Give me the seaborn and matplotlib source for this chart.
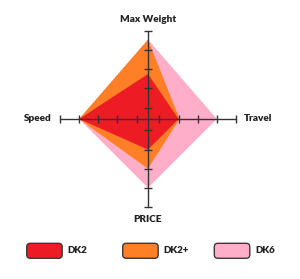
import numpy as np
import matplotlib
matplotlib.use("Agg")
import matplotlib.pyplot as plt
from matplotlib.patches import FancyBboxPatch
import seaborn as sns

categories = ["Max Weight", "Travel", "PRICE", "Speed"]
series = ["DK2", "DK2+", "DK6"]
dk2 = [2.75, 2.0, 2.0, 4.0]
dk2_plus = [4.55, 2.05, 3.0, 4.0]
dk6 = [4.55, 4.0, 4.0, 4.0]
tick_values = [1, 2, 3, 4, 5]
colors = {"DK2": "#ED1C24", "DK2+": "#FF7F27", "DK6": "#FFAEC9"}

sns.set_theme(style="white")
plt.rcParams["font.family"] = ["Lato", "DejaVu Sans"]

fig = plt.figure(figsize=(3, 2.79), dpi=100)
ax = fig.add_axes([0.2, 0.2581, 0.5867, 0.6308], projection="polar")
ax.set_theta_zero_location("N")
ax.set_theta_direction(-1)
rmin, rmax = 0.4, 5.0
ax.set_ylim(rmin, rmax)
ax.grid(False)
ax.set_xticks([])
ax.set_yticks([])
ax.spines["polar"].set_visible(False)
ax.patch.set_alpha(0)

angles = np.arange(len(categories)) * 2 * np.pi / len(categories)

values = {"DK2": dk2, "DK2+": dk2_plus, "DK6": dk6}
for name in ["DK6", "DK2+", "DK2"]:
    v = values[name]
    th = np.concatenate([angles, angles[:1]])
    rr = np.concatenate([v, v[:1]])
    ax.fill(th, rr, color=colors[name], lw=0, zorder=2)

axis_color = "#333333"
for i, a in enumerate(angles):
    ax.plot([a, a], [rmin, rmax], color=axis_color, lw=1.0, zorder=3, clip_on=False)
    marker = "_" if i % 2 == 0 else "|"
    ax.plot([a] * len(tick_values), tick_values, ls="none", marker=marker,
            markersize=5.5, markeredgewidth=1.0, color=axis_color, zorder=3, clip_on=False)

label_cfg = [
    (5.61, "center", "center"),
    (5.43, "left", "center"),
    (5.63, "center", "center"),
    (5.42, "right", "center"),
]
for a, cat, (r, ha, va) in zip(angles, categories, label_cfg):
    ax.text(a, r, cat, ha=ha, va=va, fontsize=7.2, fontweight="heavy",
            color="#222222", clip_on=False)

# legend
W, H = 300, 279
box_x = [26.7, 122.7, 214.3]
for x0, name in zip(box_x, series):
    bx = FancyBboxPatch((x0 / W, 1 - 258.3 / H), 35.5 / W, 15 / H,
                        boxstyle="round,pad=0,rounding_size=0.012",
                        transform=fig.transFigure, facecolor=colors[name],
                        edgecolor="#3a3a3a", lw=1.0, mutation_aspect=W / H)
    fig.add_artist(bx)
    fig.text((x0 + 41) / W, 1 - 250.8 / H, name, ha="left", va="center",
             fontsize=7, fontweight="heavy", color="#222222")

fig.savefig("out.png", dpi=100)
